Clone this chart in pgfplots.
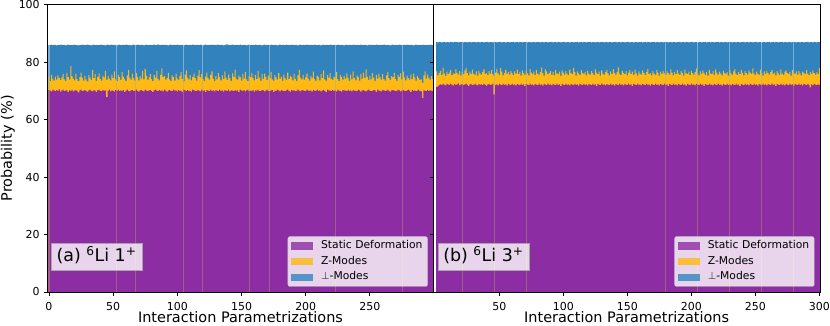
\documentclass[border=0pt]{standalone}
\usepackage{fontspec}
\setmainfont{DejaVu Sans}
\usepackage{pgfplots}
\usepackage{pgfplotstable}
\pgfplotsset{compat=1.18}
\definecolor{cS}{RGB}{141,45,164}
\definecolor{cZ}{RGB}{255,185,20}
\definecolor{cP}{RGB}{50,131,189}

% columns: s = top of Static Deformation, y = top of Z-Modes, t = top of perp-Modes (cumulative %)
\pgfplotstableread[row sep=\\]{
s y t\\
70.3 74.9 86.0\\ 70.1 73.4 85.9\\ 69.8 75.6 86.1\\ 70.4 74.2 85.9\\ 70.2 73.6 86.0\\ 69.9 75.0 86.0\\ 70.3 73.9 85.8\\ 70.0 75.4 86.0\\ 70.5 74.5 85.9\\ 69.7 73.8 86.1\\
70.2 74.7 86.0\\ 70.4 75.9 85.9\\ 69.9 74.0 86.0\\ 70.1 73.5 85.8\\ 70.3 76.3 86.0\\ 69.6 74.8 86.1\\ 70.2 73.9 85.9\\ 70.0 78.7 86.0\\ 70.4 75.1 85.9\\ 69.8 74.3 86.0\\
70.1 73.7 86.1\\ 70.3 76.0 85.9\\ 70.0 74.2 86.0\\ 69.5 73.4 85.8\\ 70.2 74.8 86.0\\ 70.4 76.4 85.9\\ 69.9 74.5 86.1\\ 70.1 73.6 86.0\\ 70.3 75.2 85.9\\ 70.0 74.0 86.0\\
69.7 73.3 86.1\\ 70.2 75.5 86.0\\ 70.4 74.6 85.9\\ 70.0 73.8 85.8\\ 69.8 77.2 86.0\\ 70.3 74.4 86.1\\ 70.1 75.8 85.9\\ 69.6 73.5 86.0\\ 70.2 74.9 85.9\\ 70.4 76.1 86.0\\
70.0 74.1 86.0\\ 69.9 73.6 86.1\\ 70.3 75.3 85.9\\ 70.1 74.7 86.0\\ 70.2 77.0 85.8\\ 67.8 73.9 86.0\\ 70.0 75.1 86.1\\ 70.4 74.3 85.9\\ 69.8 73.7 86.0\\ 70.2 75.7 86.1\\
70.1 74.5 85.9\\ 69.7 76.8 86.0\\ 70.3 74.0 86.0\\ 70.0 73.4 85.8\\ 70.4 75.6 86.0\\ 69.9 74.8 86.1\\ 70.2 73.8 85.9\\ 70.0 76.5 86.0\\ 70.3 75.0 86.0\\ 69.6 74.2 85.9\\
70.1 73.5 86.1\\ 70.4 75.4 86.0\\ 70.0 77.3 85.9\\ 69.8 74.6 86.0\\ 70.2 73.9 85.8\\ 70.3 75.9 86.0\\ 69.9 74.4 86.1\\ 70.1 73.6 85.9\\ 70.4 76.2 86.0\\ 70.0 74.9 86.0\\
69.7 73.7 86.1\\ 70.2 75.2 85.9\\ 70.3 74.3 86.0\\ 70.0 76.9 86.0\\ 69.8 74.0 85.8\\ 70.4 77.6 86.0\\ 70.1 75.3 86.1\\ 69.9 73.8 85.9\\ 70.2 74.7 86.0\\ 70.3 75.8 86.0\\
70.0 74.1 85.9\\ 69.6 73.4 86.0\\ 70.2 75.5 86.1\\ 70.4 74.6 85.9\\ 70.1 77.0 86.0\\ 69.9 74.2 86.2\\ 70.3 73.7 86.0\\ 70.0 75.6 85.9\\ 70.2 77.8 86.0\\ 69.8 74.9 86.1\\
70.4 75.1 85.9\\ 70.1 73.9 86.0\\ 69.7 74.5 86.0\\ 70.2 76.3 85.8\\ 70.3 74.0 86.0\\ 70.0 73.5 86.1\\ 69.9 75.4 85.9\\ 70.4 74.8 86.0\\ 70.1 73.6 86.0\\ 70.2 75.9 85.9\\
69.8 74.3 86.1\\ 70.3 73.8 86.0\\ 70.0 75.2 85.9\\ 70.1 76.6 86.0\\ 69.6 74.1 86.0\\ 70.4 73.4 85.8\\ 70.2 75.7 86.0\\ 69.9 77.1 86.1\\ 70.3 74.6 85.9\\ 70.0 74.0 86.0\\
70.1 75.5 86.0\\ 69.7 73.7 85.9\\ 70.4 74.9 86.1\\ 70.2 76.0 86.0\\ 70.0 74.4 85.9\\ 69.9 73.6 86.0\\ 70.3 75.3 86.0\\ 70.1 77.2 85.9\\ 69.8 74.7 86.1\\ 70.4 75.8 86.0\\
70.0 74.2 85.8\\ 70.2 73.5 86.0\\ 69.6 75.0 86.1\\ 70.3 76.4 85.9\\ 70.1 74.5 86.0\\ 69.9 73.9 86.0\\ 70.4 75.6 85.9\\ 70.0 76.8 86.1\\ 70.2 74.3 86.0\\ 69.8 73.4 85.9\\
70.3 75.1 86.0\\ 70.1 74.0 86.0\\ 69.9 76.2 86.1\\ 70.4 74.8 85.9\\ 70.0 73.7 86.0\\ 70.2 75.4 86.0\\ 69.7 74.1 85.8\\ 70.3 76.7 86.0\\ 70.1 74.6 86.1\\ 70.0 73.8 86.2\\
70.4 75.7 86.0\\ 69.8 74.4 85.9\\ 70.2 73.5 86.0\\ 70.1 76.1 86.1\\ 69.9 74.9 86.0\\ 70.3 77.4 85.9\\ 70.0 74.2 86.0\\ 70.2 73.9 86.0\\ 69.6 75.3 85.9\\ 70.4 74.7 86.1\\
70.1 73.6 86.0\\ 70.0 75.9 85.9\\ 70.3 74.3 86.0\\ 69.8 76.5 86.0\\ 70.2 74.0 85.8\\ 70.4 73.4 86.0\\ 69.9 75.2 86.1\\ 70.1 74.8 85.9\\ 70.0 76.3 86.0\\ 70.3 74.5 86.0\\
69.7 73.7 85.9\\ 70.2 75.6 86.1\\ 70.1 74.1 86.0\\ 70.4 77.0 85.9\\ 69.9 74.6 86.0\\ 70.0 73.5 86.0\\ 70.3 75.8 85.8\\ 70.2 74.2 86.0\\ 69.8 76.0 86.1\\ 70.1 74.9 85.9\\
70.4 73.8 86.0\\ 70.0 75.3 86.0\\ 69.9 74.4 85.9\\ 70.2 76.6 86.1\\ 70.3 74.0 86.0\\ 69.6 73.6 85.9\\ 70.1 75.5 86.0\\ 70.0 74.7 86.0\\ 70.4 73.9 85.8\\ 70.2 76.2 86.0\\
69.8 74.3 86.1\\ 70.3 75.0 85.9\\ 70.1 73.5 86.0\\ 70.0 75.7 86.0\\ 69.9 74.5 85.9\\ 70.2 73.8 86.1\\ 70.4 76.4 86.0\\ 70.0 74.1 85.9\\ 69.7 75.2 86.0\\ 70.3 74.8 86.0\\
70.1 73.7 86.1\\ 70.2 75.9 85.9\\ 69.9 74.2 86.0\\ 70.0 73.4 86.0\\ 70.4 75.4 85.8\\ 70.1 77.3 86.0\\ 69.8 74.6 86.1\\ 70.3 74.0 85.9\\ 70.2 75.6 86.0\\ 70.0 73.9 86.0\\
69.9 74.7 85.9\\ 70.4 76.0 86.1\\ 70.1 74.3 86.0\\ 70.0 73.6 85.9\\ 70.2 75.1 86.0\\ 69.7 74.5 86.0\\ 70.3 76.7 85.9\\ 70.1 74.1 86.1\\ 69.9 73.5 86.0\\ 70.4 75.3 85.9\\
70.0 74.8 86.0\\ 70.2 73.7 86.0\\ 69.8 75.8 85.8\\ 70.1 74.4 86.0\\ 70.3 77.1 86.1\\ 70.0 74.0 85.9\\ 69.6 73.6 86.0\\ 70.4 75.5 86.0\\ 70.2 74.6 85.9\\ 70.1 76.2 86.1\\
69.9 74.2 86.0\\ 70.3 73.8 85.9\\ 70.0 75.0 86.0\\ 70.2 74.7 86.0\\ 69.8 76.5 85.9\\ 70.4 74.1 86.1\\ 70.1 73.4 86.0\\ 70.0 75.6 85.9\\ 69.7 74.9 86.0\\ 70.3 73.9 86.0\\
70.2 75.3 85.8\\ 70.1 74.3 86.0\\ 69.9 76.1 86.1\\ 70.4 74.6 85.9\\ 70.0 73.5 86.0\\ 70.2 75.7 86.0\\ 69.8 74.0 85.9\\ 70.3 76.8 86.1\\ 70.1 74.4 86.0\\ 70.0 73.7 85.9\\
69.9 75.4 86.0\\ 70.4 74.8 86.0\\ 70.2 73.6 85.9\\ 69.7 75.9 86.1\\ 70.1 74.2 86.0\\ 70.3 76.4 85.9\\ 70.0 74.5 86.0\\ 69.8 77.5 86.0\\ 70.2 74.9 85.8\\ 70.4 73.8 86.0\\
70.1 75.2 86.1\\ 69.9 74.0 85.9\\ 70.0 76.2 86.0\\ 70.3 74.6 86.0\\ 70.2 73.5 85.9\\ 69.6 75.5 86.1\\ 70.4 74.3 86.0\\ 70.1 76.0 85.9\\ 70.0 74.7 86.0\\ 69.8 73.9 86.0\\
70.3 75.8 85.9\\ 70.2 74.1 86.1\\ 69.9 73.6 86.0\\ 70.1 75.4 85.9\\ 70.4 76.6 86.0\\ 70.0 74.4 86.0\\ 69.7 73.8 85.8\\ 70.2 75.1 86.0\\ 70.3 74.8 86.1\\ 70.1 76.3 85.9\\
69.9 74.2 86.0\\ 70.0 73.5 86.0\\ 70.4 75.6 85.9\\ 70.2 74.9 86.1\\ 69.8 76.1 86.0\\ 70.1 74.0 85.9\\ 70.3 76.7 86.0\\ 70.0 74.6 86.0\\ 69.9 73.7 85.9\\ 70.2 75.3 86.1\\
70.4 74.4 86.0\\ 70.1 73.9 85.9\\ 69.6 75.7 86.0\\ 70.3 74.1 86.0\\ 70.0 76.0 85.8\\ 70.2 74.7 86.0\\ 69.9 73.6 86.1\\ 70.1 75.2 85.9\\ 70.4 74.5 86.0\\ 70.0 73.8 86.0\\
69.8 74.0 85.9\\ 67.6 72.8 86.0\\ 70.2 75.4 86.1\\ 70.1 76.8 85.9\\ 69.9 74.3 86.0\\ 70.3 75.7 86.0\\ 70.0 74.6 85.9\\ 70.2 73.9 86.1\\ 70.1 75.1 86.0\\ 69.9 74.2 85.9\\
}\tabA

\pgfplotstableread[row sep=\\]{
s y t\\
71.3 76.8 87.0\\ 71.6 75.4 86.9\\ 72.0 76.2 87.1\\ 72.3 77.0 87.0\\ 72.1 75.6 86.9\\ 72.5 78.1 87.0\\ 72.2 76.0 87.1\\ 71.9 75.2 86.9\\ 72.4 76.7 87.0\\ 72.3 75.8 87.0\\
72.0 76.4 86.9\\ 72.5 77.3 87.1\\ 72.2 75.5 87.0\\ 71.8 76.1 86.9\\ 72.4 75.9 87.0\\ 72.1 77.6 87.1\\ 72.3 76.3 87.0\\ 72.6 75.7 86.9\\ 71.9 76.9 87.0\\ 72.2 75.3 87.0\\
72.4 76.5 87.1\\ 72.0 75.8 86.9\\ 72.3 77.1 87.0\\ 72.5 78.0 87.0\\ 72.1 76.2 86.9\\ 71.7 75.4 87.1\\ 72.3 76.7 87.0\\ 72.4 75.9 86.9\\ 72.0 77.4 87.0\\ 72.2 76.0 87.0\\
72.5 75.6 87.1\\ 72.1 76.8 86.9\\ 71.9 75.3 87.0\\ 72.4 77.0 87.0\\ 72.2 76.1 86.9\\ 72.3 75.7 87.1\\ 72.0 76.6 87.0\\ 72.5 77.5 86.9\\ 72.1 75.9 87.0\\ 71.8 76.3 87.0\\
72.3 75.5 87.1\\ 72.4 76.9 86.9\\ 72.0 76.0 87.0\\ 72.2 77.2 87.0\\ 72.5 75.8 86.9\\ 68.8 75.2 87.1\\ 72.1 76.4 87.0\\ 72.3 77.7 86.9\\ 71.9 76.1 87.0\\ 72.4 75.6 87.0\\
72.2 78.0 87.1\\ 72.0 76.7 86.9\\ 72.5 75.4 87.0\\ 72.1 76.2 87.0\\ 72.3 77.3 86.9\\ 71.8 75.9 87.1\\ 72.4 76.5 87.0\\ 72.2 75.7 86.9\\ 72.0 77.0 87.0\\ 72.5 76.3 87.0\\
72.1 75.5 87.1\\ 72.3 76.8 86.9\\ 71.9 76.0 87.0\\ 72.4 77.4 87.0\\ 72.2 75.8 86.9\\ 72.0 76.6 87.1\\ 72.5 75.3 87.0\\ 72.1 77.1 86.9\\ 72.3 76.2 87.0\\ 71.7 75.6 87.0\\
72.4 76.9 87.1\\ 72.2 76.1 86.9\\ 72.0 75.4 87.0\\ 72.5 77.6 87.0\\ 72.1 76.4 86.9\\ 72.3 75.9 87.1\\ 71.9 76.7 87.0\\ 72.4 75.5 86.9\\ 72.2 77.2 87.0\\ 72.0 76.0 87.0\\
72.5 75.7 87.1\\ 72.1 76.5 86.9\\ 72.3 78.1 87.0\\ 71.8 76.2 87.0\\ 72.4 75.3 86.9\\ 72.2 77.5 87.1\\ 72.0 76.8 87.0\\ 72.5 75.8 86.9\\ 72.1 76.3 87.0\\ 72.3 77.0 87.0\\
71.9 75.6 87.1\\ 72.4 76.6 86.9\\ 72.2 75.4 87.0\\ 72.0 77.3 87.0\\ 72.5 76.1 86.9\\ 72.1 75.9 87.1\\ 72.3 76.7 87.0\\ 71.7 75.2 86.9\\ 72.4 77.1 87.0\\ 72.2 76.4 87.0\\
72.0 75.7 87.1\\ 72.5 76.9 86.9\\ 72.1 76.0 87.0\\ 72.3 75.5 87.0\\ 71.9 77.4 86.9\\ 72.4 76.2 87.1\\ 72.2 75.8 87.0\\ 72.0 78.0 86.9\\ 72.5 76.5 87.0\\ 72.1 75.3 87.0\\
72.3 76.8 87.1\\ 71.8 76.1 86.9\\ 72.4 75.6 87.0\\ 72.2 77.2 87.0\\ 72.0 76.3 86.9\\ 72.5 75.9 87.1\\ 72.1 76.6 87.0\\ 72.3 75.4 86.9\\ 71.9 77.0 87.0\\ 72.4 76.0 87.0\\
72.2 75.7 87.1\\ 72.0 76.9 86.9\\ 72.5 76.2 87.0\\ 72.1 75.5 87.0\\ 72.3 77.5 86.9\\ 71.7 76.4 87.1\\ 72.4 75.8 87.0\\ 72.2 76.7 86.9\\ 72.0 75.3 87.0\\ 72.5 77.1 87.0\\
72.1 76.0 87.1\\ 72.3 75.6 86.9\\ 71.9 76.5 87.0\\ 72.4 77.3 87.0\\ 72.2 76.1 86.9\\ 72.0 75.4 87.1\\ 72.5 76.8 87.0\\ 72.1 75.9 86.9\\ 72.3 77.6 87.0\\ 71.8 76.3 87.0\\
72.4 75.7 87.1\\ 72.2 76.6 86.9\\ 72.0 78.2 87.0\\ 72.5 76.0 87.0\\ 72.1 75.5 86.9\\ 72.3 77.0 87.1\\ 71.9 76.2 87.0\\ 72.4 75.8 86.9\\ 72.2 76.9 87.0\\ 72.0 75.4 87.0\\
72.5 76.4 87.1\\ 72.1 77.2 86.9\\ 72.3 75.9 87.0\\ 71.7 76.7 87.0\\ 72.4 75.6 86.9\\ 72.2 77.4 87.1\\ 72.0 76.1 87.0\\ 72.5 75.3 86.9\\ 72.1 76.8 87.0\\ 72.3 76.0 87.0\\
71.9 75.7 87.1\\ 72.4 77.1 86.9\\ 72.2 76.3 87.0\\ 72.0 75.5 87.0\\ 72.5 76.6 86.9\\ 72.1 77.7 87.1\\ 72.3 75.8 87.0\\ 71.8 76.2 86.9\\ 72.4 75.4 87.0\\ 72.2 76.9 87.0\\
72.0 76.0 87.1\\ 72.5 75.6 86.9\\ 72.1 77.3 87.0\\ 72.3 76.4 87.0\\ 71.9 75.3 86.9\\ 72.4 76.7 87.1\\ 72.2 75.9 87.0\\ 72.0 77.0 86.9\\ 72.5 76.1 87.0\\ 72.1 75.5 87.0\\
72.3 76.8 87.1\\ 71.7 76.2 86.9\\ 72.4 75.7 87.0\\ 72.2 77.5 87.0\\ 72.0 76.4 86.9\\ 72.5 75.4 87.1\\ 72.1 76.6 87.0\\ 72.3 75.8 86.9\\ 71.9 77.2 87.0\\ 72.4 76.0 87.0\\
72.2 75.6 87.1\\ 72.0 76.9 86.9\\ 72.5 76.3 87.0\\ 72.1 75.3 87.0\\ 72.3 77.4 86.9\\ 71.8 76.1 87.1\\ 72.4 75.9 87.0\\ 72.2 76.7 86.9\\ 72.0 75.5 87.0\\ 72.5 77.0 87.0\\
72.1 76.2 87.1\\ 72.3 75.7 86.9\\ 71.9 76.5 87.0\\ 72.4 77.8 87.0\\ 72.2 76.0 86.9\\ 72.0 75.4 87.1\\ 72.5 76.8 87.0\\ 72.1 75.9 86.9\\ 72.3 77.1 87.0\\ 71.7 76.3 87.0\\
72.4 75.6 87.1\\ 72.2 76.6 86.9\\ 72.0 75.3 87.0\\ 72.5 77.3 87.0\\ 72.1 76.1 86.9\\ 72.3 75.8 87.1\\ 71.9 76.9 87.0\\ 72.4 75.5 86.9\\ 72.2 77.5 87.0\\ 72.0 76.4 87.0\\
72.5 75.7 87.1\\ 72.1 76.7 86.9\\ 72.3 76.0 87.0\\ 71.8 75.4 87.0\\ 72.4 77.0 86.9\\ 72.2 76.2 87.1\\ 72.0 75.9 87.0\\ 72.5 76.5 86.9\\ 72.1 75.3 87.0\\ 72.3 77.2 87.0\\
71.9 76.1 87.1\\ 72.4 75.6 86.9\\ 72.2 76.8 87.0\\ 72.0 77.6 87.0\\ 72.5 76.0 86.9\\ 72.1 75.5 87.1\\ 72.3 76.6 87.0\\ 71.7 75.8 86.9\\ 72.4 77.3 87.0\\ 72.2 76.3 87.0\\
72.0 75.4 87.1\\ 72.5 76.9 86.9\\ 72.1 76.2 87.0\\ 72.3 75.7 87.0\\ 71.9 77.1 86.9\\ 72.4 76.4 87.1\\ 72.2 75.9 87.0\\ 72.0 77.8 86.9\\ 72.5 76.1 87.0\\ 72.1 75.5 87.0\\
72.3 76.7 87.1\\ 71.8 76.0 86.9\\ 72.4 75.6 87.0\\ 72.2 77.4 87.0\\ 72.0 76.3 86.9\\ 72.5 75.3 87.1\\ 72.1 76.8 87.0\\ 72.3 75.8 86.9\\ 71.9 77.0 87.0\\ 72.4 76.2 87.0\\
72.2 75.7 87.1\\ 72.0 76.5 86.9\\ 72.5 77.2 87.0\\ 72.1 75.9 87.0\\ 72.3 76.4 86.9\\ 71.7 75.4 87.1\\ 72.4 76.9 87.0\\ 72.2 76.1 86.9\\ 72.0 75.6 87.0\\ 72.5 77.5 87.0\\
72.1 76.0 87.1\\ 72.3 75.5 86.9\\ 71.9 76.7 87.0\\ 72.4 77.1 87.0\\ 72.2 76.2 86.9\\ 72.0 75.8 87.1\\ 72.5 76.6 87.0\\ 72.1 75.3 86.9\\ 72.3 77.3 87.0\\ 71.8 76.4 87.0\\
72.4 75.9 87.1\\ 72.2 76.8 86.9\\ 72.0 75.6 87.0\\ 72.5 77.0 87.0\\ 72.1 76.1 86.9\\ 72.3 75.4 87.1\\ 71.9 76.7 87.0\\ 72.4 76.3 86.9\\ 72.2 75.8 87.0\\ 72.0 77.2 87.0\\
72.5 76.0 87.1\\ 72.1 75.5 86.9\\ 71.2 76.6 87.0\\ 72.3 75.9 87.0\\ 71.9 77.1 86.9\\ 72.4 76.2 87.1\\ 72.2 75.7 87.0\\ 72.0 76.5 86.9\\ 72.3 75.8 87.0\\ 72.1 77.9 87.0\\
}\tabB

\tikzset{
  tagbox/.style={anchor=south west, draw=black!35, fill=white, fill opacity=0.8,
    text opacity=1, inner xsep=5.3bp, inner ysep=5.3bp, text height=13.3bp, text depth=3.5bp,
    font=\fontsize{17.5}{21}\selectfont},
}
\pgfplotsset{
  panel/.style={
    scale only axis, width=385.6bp, height=287.3bp,
    ymin=0, ymax=100, ytick={0,20,...,100},
    axis line style={line width=0.8bp, black},
    tick align=outside, tick pos=left,
    major tick length=3.5bp,
    tick style={line width=0.8bp, black},
    tick label style={font=\fontsize{11}{13}\selectfont},
    xticklabel style={yshift=-3.2bp},
    yticklabel style={xshift=-1bp},
    label style={font=\fontsize{14.5}{17}\selectfont},
    xlabel={Interaction Parametrizations},
    xlabel style={at={(axis description cs:0.5,0)}, anchor=base, yshift=-30.4bp},
    /pgf/number format/assume math mode=true,
    legend cell align=left,
    legend image code/.code={\fill[#1, sharp corners, draw=none] (0bp,-3.7bp) rectangle (21.7bp,3.7bp);},
    legend style={at={(0.9855,0.0185)}, anchor=south east, draw=black!25,
      rounded corners=2bp, fill=white, fill opacity=0.8, text opacity=1,
      font=\fontsize{10.8}{13}\selectfont, inner xsep=3.5bp, inner ysep=2.5bp,
      nodes={inner sep=1.5bp, text height=8bp, text depth=2.5bp},
      row sep=2.2bp,
      /tikz/every odd column/.append style={column sep=6.5bp}},
  },
  barS/.style={ybar, bar width=0.8, bar shift=0pt, fill=cS, draw=none, forget plot},
  barZ/.style={ybar, bar width=0.8, bar shift=0pt, fill=cZ, draw=none, forget plot},
  barP/.style={ybar, bar width=0.8, bar shift=0pt, fill=cP, draw=none, forget plot},
}

\begin{document}
\begin{tikzpicture}
\begin{axis}[panel, name=L, xmin=-1, xmax=299.4, xtick={0,50,...,250},
  ylabel={Probability (\%)},
  ylabel style={at={(axis description cs:-0.103,0.5)}, anchor=center}]
\addplot[barP] table[x expr=\coordindex, y=t] {\tabA};
\addplot[barZ] table[x expr=\coordindex, y=y] {\tabA};
\addplot[barS] table[x expr=\coordindex, y=s] {\tabA};
\addlegendimage{fill=cS}\addlegendentry{Static Deformation}
\addlegendimage{fill=cZ}\addlegendentry{Z-Modes}
\addlegendimage{fill=cP}\addlegendentry{$\perp$-Modes}
\node[tagbox] at (rel axis cs:0.0086,0.074) {(a) \textsuperscript{6}Li 1\textsuperscript{+}};
\end{axis}
\begin{axis}[panel, at={(L.south east)}, anchor=south west, width=386.7bp, xmin=-1.6, xmax=300.5,
  xtick={50,100,...,300}, yticklabels={}]
\addplot[barP] table[x expr=\coordindex+1, y=t] {\tabB};
\addplot[barZ] table[x expr=\coordindex+1, y=y] {\tabB};
\addplot[barS] table[x expr=\coordindex+1, y=s] {\tabB};
\addlegendimage{fill=cS}\addlegendentry{Static Deformation}
\addlegendimage{fill=cZ}\addlegendentry{Z-Modes}
\addlegendimage{fill=cP}\addlegendentry{$\perp$-Modes}
\node[tagbox] at (rel axis cs:0.0115,0.074) {(b) \textsuperscript{6}Li 3\textsuperscript{+}};
\end{axis}
\pgfresetboundingbox
\path[use as bounding box] ([xshift=-47.7bp,yshift=-34bp]L.south west) rectangle ++(830bp,326bp);
\end{tikzpicture}
\end{document}
